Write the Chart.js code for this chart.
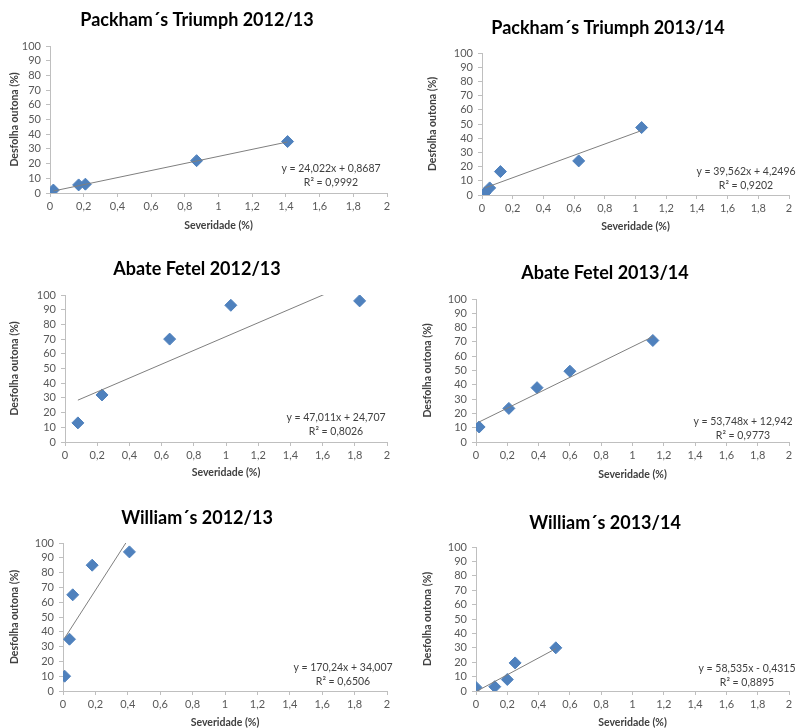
<!DOCTYPE html>
<html>
<head>
<meta charset="utf-8">
<script src="https://cdn.jsdelivr.net/npm/chart.js@4"></script>
<style>
  html, body { margin: 0; padding: 0; background: #ffffff; overflow: hidden; width: 796px; height: 728px; }
  .box { position: absolute; }
</style>
</head>
<body>
<div class="box" id="b0"><canvas id="c0"></canvas></div>
<div class="box" id="b1"><canvas id="c1"></canvas></div>
<div class="box" id="b2"><canvas id="c2"></canvas></div>
<div class="box" id="b3"><canvas id="c3"></canvas></div>
<div class="box" id="b4"><canvas id="c4"></canvas></div>
<div class="box" id="b5"><canvas id="c5"></canvas></div>
<script>
// ---- DATA ----
const chartTitles = ['Packham´s Triumph 2012/13', 'Packham´s Triumph 2013/14',
                     'Abate Fetel 2012/13', 'Abate Fetel 2013/14',
                     'William´s 2012/13', 'William´s 2013/14'];
const xAxisTitle = 'Severidade (%)';
const yAxisTitle = 'Desfolha outona (%)';

const sevPT1213 = [0.02, 0.17, 0.21, 0.87, 1.41];
const desPT1213 = [2, 5.5, 6, 22, 35];
const sevPT1314 = [0.02, 0.05, 0.12, 0.63, 1.04];
const desPT1314 = [1.5, 5, 16.5, 24, 47.5];
const sevAF1213 = [0.08, 0.23, 0.65, 1.03, 1.83];
const desAF1213 = [13, 32, 70, 93, 96];
const sevAF1314 = [0.02, 0.21, 0.39, 0.60, 1.13];
const desAF1314 = [10.5, 23.5, 38, 49.5, 71];
const sevW1213 = [0.01, 0.04, 0.06, 0.18, 0.41];
const desW1213 = [10, 35, 65, 85, 94];
const sevW1314 = [0.00, 0.12, 0.20, 0.25, 0.51];
const desW1314 = [2.5, 3, 8, 19.5, 30];

const slopes = [24.022, 39.562, 47.011, 53.748, 170.24, 58.535];
const intercepts = [0.8687, 4.2496, 24.707, 12.942, 34.007, -0.4315];
const equations = ['y = 24,022x + 0,8687', 'y = 39,562x + 4,2496', 'y = 47,011x + 24,707',
                   'y = 53,748x + 12,942', 'y = 170,24x + 34,007', 'y = 58,535x - 0,4315'];
const r2Labels = ['R² = 0,9992', 'R² = 0,9202', 'R² = 0,8026', 'R² = 0,9773', 'R² = 0,6506', 'R² = 0,8895'];

const xTickValues = [0, 0.2, 0.4, 0.6, 0.8, 1, 1.2, 1.4, 1.6, 1.8, 2];
const yTickValues = [0, 10, 20, 30, 40, 50, 60, 70, 80, 90, 100];

const sevSeries = [sevPT1213, sevPT1314, sevAF1213, sevAF1314, sevW1213, sevW1314];
const desSeries = [desPT1213, desPT1314, desAF1213, desAF1314, desW1213, desW1314];

// ---- LAYOUT (positions / styles, kept apart from data) ----
// box: [left, top, width, height]; plot: [left, top, right, bottom] relative to box
const layouts = [
  { box: [0, 0, 398, 240],   plot: [50, 46, 387, 193], title: [197, 20], eq: [331, 169], yTitlePad: 8,  xTitlePad: 8 },
  { box: [398, 0, 398, 240], plot: [84, 53, 394, 195], title: [210, 28], eq: [348, 172], yTitlePad: 28, xTitlePad: 7 },
  { box: [0, 240, 398, 245], plot: [65, 55, 387, 202], title: [197, 29], eq: [336, 178], yTitlePad: 8,  xTitlePad: 6 },
  { box: [398, 240, 398, 245], plot: [78, 59, 393, 202], title: [207, 33], eq: [345, 182], yTitlePad: 23, xTitlePad: 4 },
  { box: [0, 485, 398, 250], plot: [63, 58, 387, 206], title: [197, 33], eq: [343, 183], yTitlePad: 8,  xTitlePad: 6 },
  { box: [398, 485, 398, 250], plot: [78, 62, 391, 206], title: [207, 38], eq: [349, 184], yTitlePad: 23, xTitlePad: 6 }
];

const FONT = 'Lato, "Open Sans", sans-serif';
const markerColor = '#4F81BD';
const trendColor = '#7F7F7F';
const axisColor = '#BFBFBF';

const textPlugin = {
  id: 'textPlugin',
  afterDraw(chart, args, opts) {
    const ctx = chart.ctx;
    ctx.save();
    ctx.fillStyle = '#000000';
    ctx.font = 'bold 18px ' + FONT;
    ctx.textAlign = 'center';
    ctx.textBaseline = 'middle';
    ctx.fillText(opts.title, opts.titlePos[0], opts.titlePos[1]);
    ctx.fillStyle = '#404040';
    ctx.font = '10.5px ' + FONT;
    ctx.fillText(opts.eq, opts.eqPos[0], opts.eqPos[1]);
    ctx.fillText(opts.r2, opts.eqPos[0], opts.eqPos[1] + 13.5);
    ctx.restore();
  }
};

function fmt(v) {
  const r = Math.round(v * 10) / 10;
  return String(r).replace('.', ',');
}

for (let i = 0; i < 6; i++) {
  const L = layouts[i];
  const box = document.getElementById('b' + i);
  box.style.left = L.box[0] + 'px';
  box.style.top = L.box[1] + 'px';
  const cv = document.getElementById('c' + i);
  cv.width = L.box[2];
  cv.height = L.box[3];
  cv.style.width = L.box[2] + 'px';
  cv.style.height = L.box[3] + 'px';

  const xs = sevSeries[i], ys = desSeries[i];
  const pts = xs.map((x, k) => ({ x: x, y: ys[k] }));
  const xmin = Math.min(...xs), xmax = Math.max(...xs);
  const trend = [xmin, xmax].map(x => ({ x: x, y: slopes[i] * x + intercepts[i] }));

  new Chart(cv, {
    type: 'scatter',
    data: {
      datasets: [
        { type: 'line', data: trend, borderColor: trendColor, borderWidth: 1, pointRadius: 0, fill: false, tension: 0 },
        { data: pts, pointStyle: 'rectRot', pointRadius: 6, pointHoverRadius: 6,
          backgroundColor: markerColor, borderColor: markerColor, borderWidth: 1 }
      ]
    },
    options: {
      responsive: false,
      animation: false,
      devicePixelRatio: 1,
      layout: { padding: { top: L.plot[1], right: L.box[2] - L.plot[2], bottom: 0, left: 0 } },
      plugins: {
        legend: { display: false },
        tooltip: { enabled: false },
        title: { display: false },
        textPlugin: { title: chartTitles[i], titlePos: L.title, eq: equations[i], r2: r2Labels[i], eqPos: L.eq }
      },
      scales: {
        x: {
          type: 'linear', min: 0, max: 2,
          afterBuildTicks: (s) => { s.ticks = xTickValues.map(v => ({ value: v })); },
          afterFit: (s) => { s.height = L.box[3] - L.plot[3]; },
          ticks: { color: '#595959', font: { family: FONT, size: 11 }, padding: 3, maxRotation: 0, autoSkip: false, callback: (v) => fmt(v) },
          grid: { display: true, drawOnChartArea: false, drawTicks: true, tickLength: 4, color: axisColor },
          border: { display: true, color: axisColor },
          title: { display: true, text: xAxisTitle, color: '#404040', font: { family: FONT, size: 10.5, weight: 'bold' },
                   padding: { top: 0, bottom: L.xTitlePad } }
        },
        y: {
          type: 'linear', min: 0, max: 100,
          afterBuildTicks: (s) => { s.ticks = yTickValues.map(v => ({ value: v })); },
          afterFit: (s) => { s.width = L.plot[0]; },
          ticks: { color: '#595959', font: { family: FONT, size: 11 }, padding: 5, autoSkip: false, callback: (v) => String(v) },
          grid: { display: true, drawOnChartArea: false, drawTicks: true, tickLength: 4, color: axisColor },
          border: { display: true, color: axisColor },
          title: { display: true, text: yAxisTitle, color: '#404040', font: { family: FONT, size: 10.5, weight: 'bold' },
                   padding: { top: L.yTitlePad, bottom: 0 } }
        }
      }
    },
    plugins: [textPlugin]
  });
}
</script>
</body>
</html>
